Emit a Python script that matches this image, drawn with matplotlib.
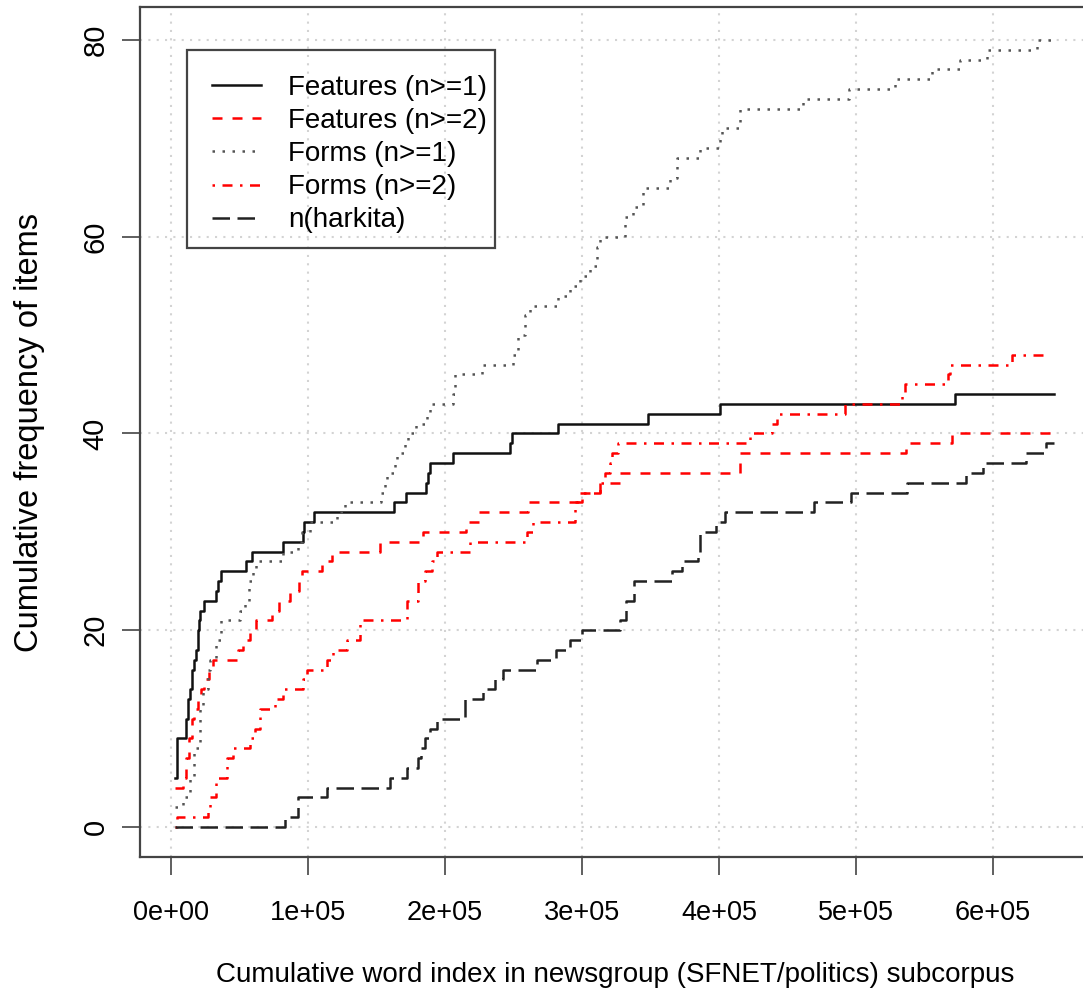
import matplotlib
matplotlib.use('Agg')
import matplotlib.pyplot as plt
from matplotlib.patches import Rectangle

# cumulative word index (thousands) where each series steps up, and its new value
feat1_x = [2.9, 4.4, 10.9, 12.4, 13.9, 15.3, 16.8, 18.2, 19.7, 20.4, 21.2, 24.1, 32.8, 34.3, 36.5,
           54.7, 59.1, 81.8, 96.3, 97.1, 104.4, 162.8, 171.5, 186.1, 187.6, 189.1, 205.8, 247.4,
           248.9, 282.5, 348.2, 400.7, 572.3, 644.5]
feat1_y = [5, 9, 11, 13, 14, 16, 17, 18, 20, 21, 22, 23, 24, 25, 26, 27, 28, 29, 30, 31, 32, 33,
           34, 35, 36, 37, 38, 39, 40, 41, 42, 43, 44, 44]

feat2_x = [2.9, 8.8, 10.9, 13.1, 15.3, 16.8, 19.7, 21.9, 24.1, 27.7, 30.7, 48.9, 52.6, 57.7, 62.0,
           73.7, 78.8, 86.9, 93.4, 95.6, 110.2, 117.5, 152.6, 183.9, 215.3, 224.8, 260.6, 297.1,
           313.1, 327.7, 415.3, 536.5, 569.9, 644.5]
feat2_y = [4, 5, 7, 9, 11, 12, 13, 14, 15, 16, 17, 18, 19, 20, 21, 22, 23, 24, 25, 26, 27, 28, 29,
           30, 31, 32, 33, 34, 35, 36, 38, 39, 40, 40]

forms1_x = [2.9, 8.8, 13.9, 16.8, 21.2, 23.4, 27.0, 28.5, 32.8, 36.5, 50.4, 54.0, 56.9, 59.9, 62.0,
            81.8, 92.7, 95.6, 101.5, 121.2, 127.0, 153.3, 156.2, 157.7, 163.5, 165.0, 170.8, 173.0,
            178.8, 186.9, 189.1, 205.8, 207.3, 227.0, 249.6, 253.3, 258.4, 262.0, 282.5, 291.2,
            298.5, 305.8, 311.0, 313.1, 331.4, 337.2, 344.5, 364.2, 369.3, 386.1, 400.7, 402.2,
            415.3, 461.3, 494.9, 528.5, 555.5, 575.9, 595.6, 632.1, 644.5]
forms1_y = [2, 3, 5, 8, 12, 14, 16, 17, 19, 21, 22, 23, 25, 26, 27, 28, 29, 30, 31, 32, 33, 34, 35,
            36, 37, 38, 39, 40, 41, 42, 43, 44, 46, 47, 48, 50, 52, 53, 54, 55, 56, 57, 59, 60, 62,
            63, 65, 66, 68, 69, 70, 71, 73, 74, 75, 76, 77, 78, 79, 80, 80]

forms2_x = [2.9, 4.4, 27.0, 28.5, 32.8, 40.9, 45.3, 57.7, 61.3, 65.0, 75.9, 81.8, 96.3, 99.3, 113.9,
            118.2, 128.5, 138.0, 172.3, 180.3, 185.4, 190.5, 194.2, 218.2, 259.8, 264.2, 294.9,
            300.0, 313.1, 316.8, 320.4, 321.9, 326.3, 422.6, 438.7, 442.3, 492.0, 533.6, 535.8,
            567.2, 568.6, 613.9, 640.0]
forms2_y = [0, 1, 2, 3, 5, 7, 8, 9, 10, 12, 13, 14, 15, 16, 17, 18, 19, 21, 23, 25, 26, 27, 28, 29,
            30, 31, 33, 34, 35, 36, 37, 38, 39, 40, 41, 42, 43, 44, 45, 46, 47, 48, 48]

hark_x = [2.9, 83.2, 92.7, 113.9, 159.9, 172.3, 180.3, 182.5, 185.4, 189.1, 194.2, 214.6, 227.7,
          236.5, 242.3, 267.1, 281.0, 291.2, 300.0, 327.7, 332.1, 337.9, 365.7, 373.0, 384.7,
          386.1, 397.8, 404.4, 469.4, 496.3, 537.2, 580.3, 592.7, 624.1, 638.7, 644.5]
hark_y = [0, 1, 3, 4, 5, 6, 7, 8, 9, 10, 11, 13, 14, 15, 16, 17, 18, 19, 20, 21, 23, 25, 26, 27, 28,
          30, 31, 32, 33, 34, 35, 36, 37, 38, 39, 39]

x_ticks = [0, 100000, 200000, 300000, 400000, 500000, 600000]
x_ticklabels = ['0e+00', '1e+05', '2e+05', '3e+05', '4e+05', '5e+05', '6e+05']
y_ticks = [0, 20, 40, 60, 80]

plt.rcParams['font.family'] = ['Liberation Sans', 'DejaVu Sans']
W, H = 1083, 994
fig = plt.figure(figsize=(W / 100, H / 100), dpi=100)
ax = fig.add_axes([140 / W, 137 / H, 950 / W, 850 / H])

k = lambda xs: [v * 1000 for v in xs]
lw = 1.8
ax.plot(k(feat1_x), feat1_y, drawstyle='steps-post', color='#111111', lw=lw,
        label='Features (n>=1)')
ax.plot(k(feat2_x), feat2_y, drawstyle='steps-post', color='#ff0000', lw=lw,
        ls=(0, (4, 4)), label='Features (n>=2)')
ax.plot(k(forms1_x), forms1_y, drawstyle='steps-post', color='#555555', lw=lw,
        ls=(0, (1, 3)), label='Forms (n>=1)')
ax.plot(k(forms2_x), forms2_y, drawstyle='steps-post', color='#ff0000', lw=lw,
        ls=(0, (1, 3, 4, 3)), label='Forms (n>=2)')
ax.plot(k(hark_x), hark_y, drawstyle='steps-post', color='#222222', lw=lw,
        ls=(0, (7, 3)), label='n(harkita)')

ax.set_xlim(-22630, 670870)
ax.set_ylim(-3.05, 83.35)
ax.set_xticks(x_ticks)
ax.set_xticklabels(x_ticklabels)
ax.set_yticks(y_ticks)
ax.set_yticklabels([str(v) for v in y_ticks], rotation=90, va='center')
ax.tick_params(axis='x', labelsize=19.5, length=13, width=1.2, color='#444444', pad=18)
ax.tick_params(axis='y', labelsize=21, length=13, width=1.2, color='#444444', pad=9)
ax.grid(True, color='#d3d3d3', ls=(0, (1, 3)), lw=1.5)
for s in ax.spines.values():
    s.set_color('#444444')
    s.set_linewidth(1.6)

ax.set_xlabel('Cumulative word index in newsgroup (SFNET/politics) subcorpus', fontsize=20,
              labelpad=26)
ax.set_ylabel('Cumulative frequency of items', fontsize=23.5, labelpad=26)

# transparent legend (grid shows through), box drawn separately like R's legend()
ax.legend(loc='upper left', bbox_to_anchor=(47 / 950, 1 - 43 / 850), fontsize=20,
          frameon=False, borderaxespad=0, handlelength=1.75, handletextpad=1.0,
          labelspacing=0.255, borderpad=0.9)
fig.add_artist(Rectangle((187 / W, 1 - 248 / H), 308 / W, 198 / H, transform=fig.transFigure,
                         fill=False, edgecolor='#444444', lw=1.6))

fig.savefig('out.png', dpi=100)
